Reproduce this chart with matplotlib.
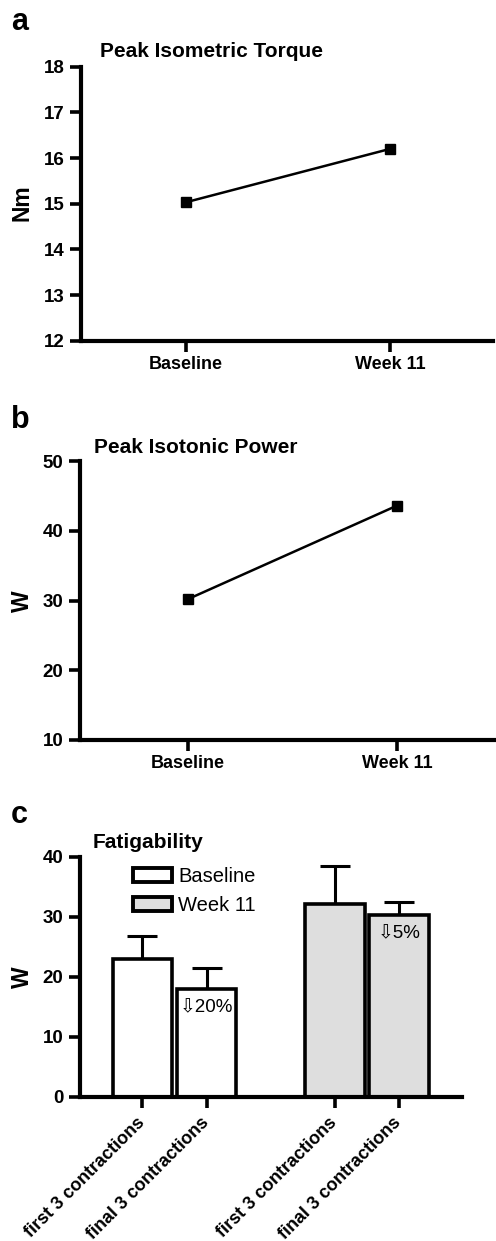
import matplotlib
matplotlib.use("Agg")
import matplotlib.pyplot as plt
from matplotlib.patches import Patch

plt.rcParams['font.family'] = ['Liberation Sans', 'DejaVu Sans']

# ---- data ----
time_labels = ["Baseline", "Week 11"]
torque_nm = [15.03, 16.2]
power_w = [30.2, 43.6]

fat_labels = ["first 3 contractions", "final 3 contractions",
              "first 3 contractions", "final 3 contractions"]
fat_means = [22.9, 18.0, 32.1, 30.3]
fat_err = [3.9, 3.4, 6.3, 2.2]
fat_group = ["Baseline", "Baseline", "Week 11", "Week 11"]
fat_change = ["\u21e920%", "\u21e95%"]

W, H = 496, 1241
fig = plt.figure(figsize=(W / 100, H / 100), dpi=100)


def px_axes(l, r, t, b):
    return fig.add_axes([l / W, 1 - b / H, (r - l) / W, (b - t) / H])


def style(ax):
    for s in ("top", "right"):
        ax.spines[s].set_visible(False)
    for s in ("left", "bottom"):
        ax.spines[s].set_linewidth(3.0)
    ax.tick_params(axis="both", direction="out", width=2.6, length=8)
    ax.tick_params(axis="y", labelsize=13.5, pad=4)
    ax.tick_params(axis="x", labelsize=13, pad=3)
    for lab in ax.get_xticklabels() + ax.get_yticklabels():
        lab.set_fontweight("bold")


# ---- panel a ----
ax1 = px_axes(81, 493, 66.7, 340.7)
ax1.plot(range(len(time_labels)), torque_nm, color="black", lw=1.8,
         marker="s", ms=7.5, mfc="black", mec="black")
ax1.set_ylim(12, 18)
ax1.set_yticks(range(12, 19))
ax1.set_xlim(-0.512, 1.504)
ax1.set_xticks(range(len(time_labels)))
ax1.set_xticklabels(time_labels)
style(ax1)
fig.text(22 / W, 1 - 203 / H, "Nm", rotation=90, fontsize=16.5, fontweight="bold",
         ha="center", va="center")
fig.text(100 / W, 1 - 57 / H, "Peak Isometric Torque", fontsize=15,
         fontweight="bold", va="baseline")
fig.text(11 / W, 1 - 30 / H, "a", fontsize=22, fontweight="bold", va="baseline")

# ---- panel b ----
ax2 = px_axes(80, 496, 461, 740)
ax2.plot(range(len(time_labels)), power_w, color="black", lw=1.8,
         marker="s", ms=7.5, mfc="black", mec="black")
ax2.set_ylim(10, 50)
ax2.set_yticks(range(10, 51, 10))
ax2.set_xlim(-0.517, 1.474)
ax2.set_xticks(range(len(time_labels)))
ax2.set_xticklabels(time_labels)
style(ax2)
fig.text(22 / W, 1 - 600.7 / H, "W", rotation=90, fontsize=16.5, fontweight="bold",
         ha="center", va="center")
fig.text(94 / W, 1 - 452.7 / H, "Peak Isotonic Power", fontsize=15,
         fontweight="bold", va="baseline")
fig.text(11 / W, 1 - 428 / H, "b", fontsize=22, fontweight="bold", va="baseline")

# ---- panel c ----
ax3 = px_axes(80, 461.7, 856.7, 1096.7)
xpos = [0, 1, 3, 4]
colors = {"Baseline": "white", "Week 11": "#dedede"}
face = [colors[g] for g in fat_group]
ax3.bar(xpos, fat_means, width=0.93, color=face, edgecolor="black", linewidth=2.6,
        zorder=2)
ax3.errorbar(xpos, fat_means, yerr=[[0] * 4, fat_err], fmt="none", ecolor="black",
             elinewidth=2.2, capsize=11, capthick=2.2, zorder=1)
ax3.set_ylim(0, 40)
ax3.set_yticks(range(0, 41, 10))
ax3.set_xlim(-0.975, 4.98)
ax3.set_xticks(xpos)
ax3.set_xticklabels(fat_labels, rotation=45, ha="right", va="center",
                    rotation_mode="anchor")
style(ax3)
ax3.tick_params(axis="x", labelsize=13, pad=9)
for lab in ax3.get_xticklabels():
    lab.set_fontweight("bold")

ax3.text(xpos[1], fat_means[1] - 3.2, fat_change[0], fontsize=13.5, ha="center",
         va="center")
ax3.text(xpos[3], fat_means[3] - 3.2, fat_change[1], fontsize=13.5, ha="center",
         va="center")

handles = [Patch(facecolor=colors[g], edgecolor="black", linewidth=2.8)
           for g in ["Baseline", "Week 11"]]
ax3.legend(handles, ["Baseline", "Week 11"], loc="upper left",
           bbox_to_anchor=(133 / W, 1 - 867 / H), bbox_transform=fig.transFigure,
           frameon=False, fontsize=14.5, handlelength=1.95, handleheight=0.75,
           handletextpad=0.3, labelspacing=0.5, borderpad=0, borderaxespad=0)

fig.text(22 / W, 1 - 976.7 / H, "W", rotation=90, fontsize=16.5, fontweight="bold",
         ha="center", va="center")
fig.text(93 / W, 1 - 848 / H, "Fatigability", fontsize=15, fontweight="bold",
         va="baseline")
fig.text(11 / W, 1 - 823 / H, "c", fontsize=22, fontweight="bold", va="baseline")

fig.savefig("out.png", dpi=100)
